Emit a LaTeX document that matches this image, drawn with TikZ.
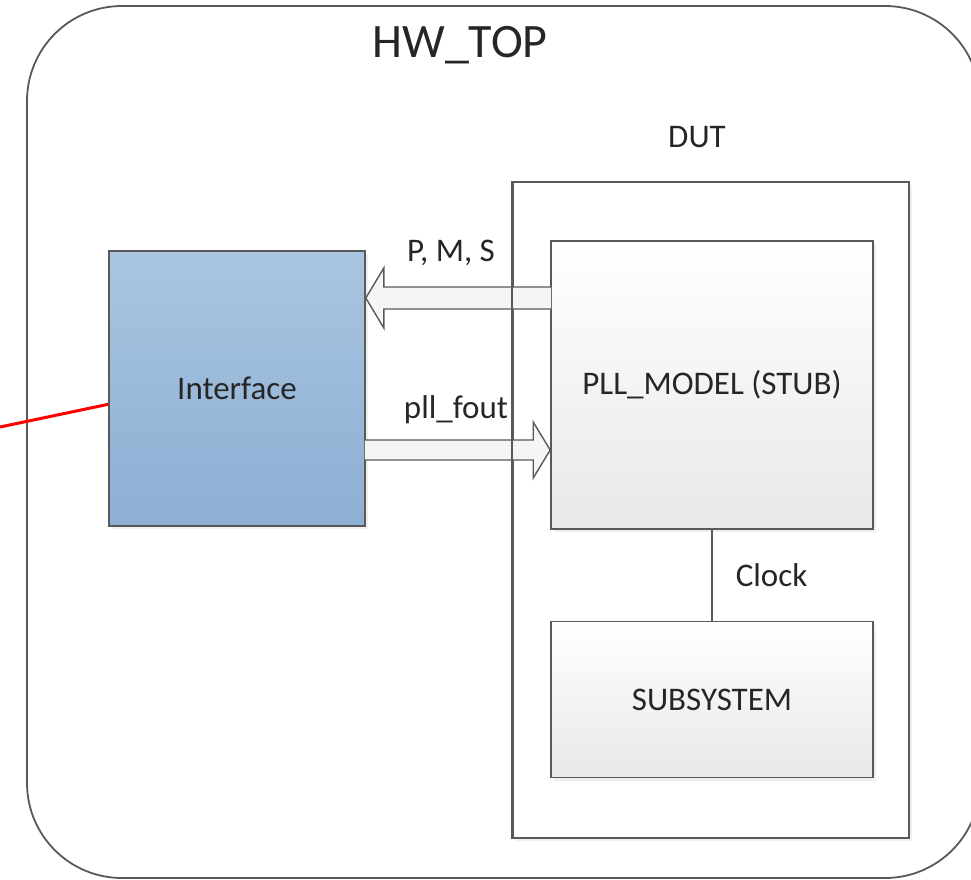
\documentclass[tikz,border=0pt]{standalone}
\usepackage{fontspec}
\setmainfont{Carlito}
\usetikzlibrary{calc,shadows,positioning}

\definecolor{intftop}{HTML}{AAC5E1}
\definecolor{intfbot}{HTML}{8CAFD3}

\tikzset{
    boxline/.style={draw=black!65, line width=1.6pt},
    block/.style={boxline, rectangle, inner sep=0pt, top color=white, bottom color=black!9,
        drop shadow={shadow xshift=3pt, shadow yshift=-3pt, opacity=0.12}},
    bluebox/.style={block, top color=intftop, bottom color=intfbot},
    fatarrow/.style={boxline, line width=1.4pt, fill=black!4, line join=miter},
    lbl/.style={font=\fontsize{33}{39}\selectfont, text=black!85, inner sep=0pt}
}

\begin{document}
\begin{tikzpicture}[x=1pt, y=-1pt]
    \useasboundingbox (0,0) rectangle (971,880);
    \clip (0,0) rectangle (971,880);

    % outer frame
    \draw[boxline, line width=1.8pt, rounded corners=95pt] (27,6) rectangle (980,878);
    \node[lbl, font=\fontsize{48}{56}\selectfont] (top) at (460,45) {HW\_TOP};

    % DUT and its blocks
    \node[boxline, fill=white, minimum width=396pt, minimum height=656pt,
        drop shadow={shadow xshift=3pt, shadow yshift=-3pt, opacity=0.12}] (dut) at (711,510) {};
    \node[lbl, above=33pt of dut.north, xshift=-14pt] (dutname) {DUT};
    \node[block, minimum width=322pt, minimum height=288pt, lbl] (pll) at (712,385) {PLL\_MODEL (STUB)};
    \node[block, minimum width=322pt, minimum height=156pt, lbl, below=91pt of pll] (sub) {SUBSYSTEM};
    \node[bluebox, minimum width=256pt, minimum height=275pt, lbl] (intf) at (237,388.5) {Interface};

    \draw[boxline] (pll) -- (sub) node[lbl, midway, right=23pt] (clk) {Clock};

    % P, M, S
    \coordinate (pmsS) at (pll.west |- 0,298);
    \coordinate (pmsE) at (intf.east |- 0,298);
    \draw[fatarrow] ($(pmsS)+(1,-11)$) -- ($(pmsE)+(18,-11)$) -- ($(pmsE)+(18,-30)$) -- (pmsE)
        -- ($(pmsE)+(18,30)$) -- ($(pmsE)+(18,11)$) -- ($(pmsS)+(1,11)$);
    \node[lbl] (pms) at (451,253) {P, M, S};

    % pll_fout
    \coordinate (foutS) at (intf.east |- 0,450);
    \coordinate (foutE) at (pll.west |- 0,450);
    \draw[fatarrow] ($(foutS)+(-1,-10)$) -- ($(foutE)+(-17,-10)$) -- ($(foutE)+(-17,-28)$) -- (foutE)
        -- ($(foutE)+(-17,28)$) -- ($(foutE)+(-17,10)$) -- ($(foutS)+(-1,10)$);
    \node[lbl] (fout) at (456,410) {pll\_fout};

    \draw[boxline] (dut.north west) -- (dut.south west);

    % outside link
    \coordinate (ext) at (0,427);
    \draw[red, line width=3pt] (ext) -- (intf.187);
\end{tikzpicture}
\end{document}
